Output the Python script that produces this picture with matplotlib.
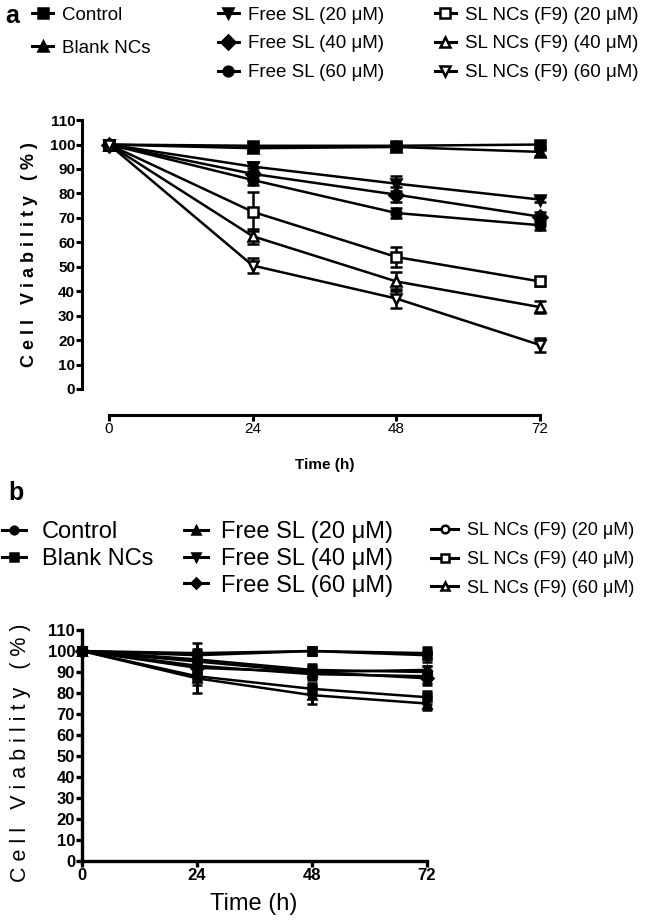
import matplotlib
matplotlib.use('Agg')
import matplotlib.pyplot as plt
from matplotlib.lines import Line2D

plt.rcParams['font.family'] = ['Liberation Sans', 'DejaVu Sans']

# time points (h)
time = [0, 24, 48, 72]

labels = ['Control', 'Blank NCs',
          'Free SL (20 μM)', 'Free SL (40 μM)', 'Free SL (60 μM)',
          'SL NCs (F9) (20 μM)', 'SL NCs (F9) (40 μM)', 'SL NCs (F9) (60 μM)']

# panel a: cell viability (%) and error
a_control = [100, 99.5, 99.5, 100]
a_blank = [100, 98.5, 99, 97]
a_free20 = [100, 91, 84, 77.5]
a_free40 = [100, 88, 79.5, 70.5]
a_free60 = [100, 85.5, 72, 67]
a_nc20 = [100, 72.5, 54, 44]
a_nc40 = [100, 62.5, 44, 33.5]
a_nc60 = [100, 50.5, 37, 18]

a_control_err = [2, 1.5, 1, 1.5]
a_blank_err = [2, 1, 1, 1.5]
a_free20_err = [2, 2, 3, 1]
a_free40_err = [2, 2.5, 3, 2]
a_free60_err = [2, 2, 2, 2]
a_nc20_err = [2, 8, 4, 2]
a_nc40_err = [2, 3, 4, 2.5]
a_nc60_err = [2, 3, 4, 3]

# panel b
b_control = [100, 99, 100, 99]
b_blank = [100, 98, 100, 98]
b_free20 = [100, 95, 90, 91]
b_free40 = [100, 93, 89, 88]
b_free60 = [100, 92, 90, 87]
b_nc20 = [100, 96, 91, 90]
b_nc40 = [100, 88, 82, 78]
b_nc60 = [100, 87, 79, 75]

b_control_err = [0.5, 5, 2, 3]
b_blank_err = [1, 3, 2, 3]
b_free20_err = [1, 3, 3, 2]
b_free40_err = [1, 3, 3, 3]
b_free60_err = [1, 3, 3, 3]
b_nc20_err = [1, 3, 3, 3]
b_nc40_err = [1, 4, 3, 3]
b_nc60_err = [1, 7, 4, 3]

a_vals = [a_control, a_blank, a_free20, a_free40, a_free60, a_nc20, a_nc40, a_nc60]
a_errs = [a_control_err, a_blank_err, a_free20_err, a_free40_err, a_free60_err,
          a_nc20_err, a_nc40_err, a_nc60_err]
a_markers = [('s', 'black'), ('^', 'black'), ('v', 'black'), ('D', 'black'),
             ('o', 'black'), ('s', 'white'), ('^', 'white'), ('v', 'white')]

b_vals = [b_control, b_blank, b_free20, b_free40, b_free60, b_nc20, b_nc40, b_nc60]
b_errs = [b_control_err, b_blank_err, b_free20_err, b_free40_err, b_free60_err,
          b_nc20_err, b_nc40_err, b_nc60_err]
b_markers = [('o', 'black'), ('s', 'black'), ('^', 'black'), ('v', 'black'),
             ('D', 'black'), ('o', 'white'), ('s', 'white'), ('^', 'white')]


def style_axis(ax, tick_size, lw):
    ax.spines['top'].set_visible(False)
    ax.spines['right'].set_visible(False)
    ax.spines['left'].set_bounds(0, 110)
    ax.spines['bottom'].set_bounds(0, 72)
    ax.spines['left'].set_linewidth(lw)
    ax.spines['bottom'].set_linewidth(lw)
    ax.set_yticks(range(0, 111, 10))
    ax.set_xticks(time)
    ax.tick_params(length=4, width=lw, labelsize=tick_size, pad=1)
    for t in ax.get_xticklabels() + ax.get_yticklabels():
        t.set_fontweight('bold')


def make_legend(markers, idx, x, y, size, ms, hlen, pad, spacing):
    handles = []
    labs = []
    for i in idx:
        m, fc = markers[i]
        handles.append(Line2D([], [], color='black', lw=2.2, marker=m, ms=ms,
                              mfc=fc, mec='black', mew=1.8))
        labs.append(labels[i])
    fig.legend(handles, labs, loc='upper left', bbox_to_anchor=(x, y),
               frameon=False, fontsize=size, handlelength=hlen,
               handletextpad=pad, labelspacing=spacing, borderpad=0,
               borderaxespad=0)


fig = plt.figure(figsize=(6.57, 9.21), dpi=100)

# ---- panel a ----
axa = fig.add_axes([0.125, 0.575, 0.715, 0.2999])
for vals, errs, (m, fc) in zip(a_vals, a_errs, a_markers):
    axa.errorbar(time, vals, yerr=errs, color='black', lw=1.8, marker=m, ms=7,
                 mfc=fc, mec='black', mew=1.8, capsize=4, capthick=1.8,
                 elinewidth=1.8, clip_on=False)
axa.set_xlim(-4.5, 74)
axa.set_ylim(-1, 112)
style_axis(axa, 11, 2.2)
axa.spines['bottom'].set_position(('outward', 17))
axa.set_ylabel('C e l l   V i a b i l i t y   ( % )', fontsize=13, fontweight='bold')
axa.yaxis.set_label_coords(-0.094, 0.494)
axa.set_xlabel('Time (h)', fontsize=11, fontweight='bold')
axa.xaxis.set_label_coords(0.517, -0.241)

fig.text(0.008, 0.996, 'a', fontsize=18, fontweight='bold', va='top')
make_legend(a_markers, [0, 1], 0.049, 0.993, 13.5, 7, 1.1, 0.5, 0.85)
make_legend(a_markers, [2, 3, 4], 0.332, 0.993, 13.5, 7, 1.1, 0.5, 0.62)
make_legend(a_markers, [5, 6, 7], 0.662, 0.993, 13.5, 7, 1.1, 0.5, 0.62)

# ---- panel b ----
axb = fig.add_axes([0.1248, 0.0651, 0.5396, 0.2554])
for vals, errs, (m, fc) in zip(b_vals, b_errs, b_markers):
    axb.errorbar(time, vals, yerr=errs, color='black', lw=1.8, marker=m, ms=6,
                 mfc='black', mec='black', mew=1.8, capsize=3.5, capthick=2.8,
                 elinewidth=2.2, clip_on=False)
axb.set_xlim(0, 74)
axb.set_ylim(0, 112)
style_axis(axb, 12, 2.4)
axb.set_ylabel('C e l l   V i a b i l i t y   ( % )', fontsize=15.5)
axb.yaxis.set_label_coords(-0.144, 0.459)
axb.set_xlabel('Time (h)', fontsize=17)
axb.xaxis.set_label_coords(0.485, -0.136)

fig.text(0.012, 0.478, 'b', fontsize=18, fontweight='bold', va='top')
make_legend(b_markers, [0, 1], 0.003, 0.434, 17, 5.5, 1.0, 0.7, 0.2)
make_legend(b_markers, [2, 3, 4], 0.280, 0.434, 17, 5.5, 1.0, 0.55, 0.2)
make_legend(b_markers, [5, 6, 7], 0.656, 0.433, 13, 5.5, 1.5, 0.5, 0.65)

fig.savefig('out.png', dpi=100)
plt.close(fig)
